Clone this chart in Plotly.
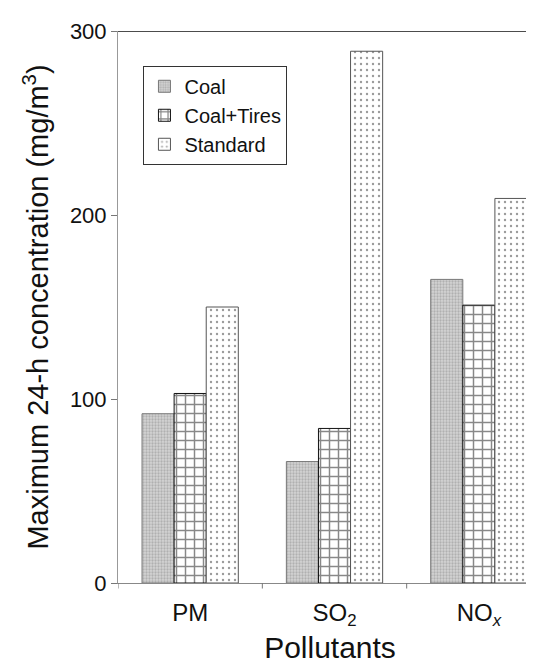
import plotly.graph_objects as go

categories = ["PM", "SO<sub>2</sub>", "NO<sub><i>x</i></sub>"]
coal = [92, 66, 165]
coal_tires = [103, 84, 151]
standard = [150, 289, 209]
y_ticks = [0, 100, 200, 300]

fig = go.Figure()
fig.add_trace(go.Bar(
    name="Coal", x=categories, y=coal,
    marker=dict(color="#d0d0d0", line=dict(color="#777777", width=1),
                pattern=dict(shape=".", fgcolor="#8c8c8c", bgcolor="#d4d4d4",
                             size=3, solidity=0.45)),
))
fig.add_trace(go.Bar(
    name="Coal+Tires", x=categories, y=coal_tires,
    marker=dict(color="white", line=dict(color="#111111", width=1),
                pattern=dict(shape="+", fgcolor="#111111", bgcolor="white",
                             size=9, solidity=0.3)),
))
fig.add_trace(go.Bar(
    name="Standard", x=categories, y=standard,
    marker=dict(color="white", line=dict(color="#555555", width=1),
                pattern=dict(shape=".", fgcolor="#333333", bgcolor="white",
                             size=6, solidity=0.12)),
))

fig.update_layout(
    width=534, height=667,
    margin=dict(l=110, r=0, t=23, b=92, autoexpand=False),
    paper_bgcolor="white", plot_bgcolor="white",
    barmode="group", bargap=0.333, bargroupgap=0,
    font=dict(family="Liberation Sans, Arial, sans-serif", color="#111111"),
    showlegend=True,
    legend=dict(x=0.06, y=0.937, xanchor="left", yanchor="top",
                bordercolor="#333333", borderwidth=1, bgcolor="white",
                font=dict(size=20), itemwidth=30, tracegroupgap=0),
    xaxis=dict(range=[-0.5, 2.4375], showline=True, linecolor="#888888",
               linewidth=1, ticks="", showgrid=False, automargin=False,
               tickfont=dict(size=24), ticklabelstandoff=8,
               title=dict(text="Pollutants", font=dict(size=30), standoff=8)),
    yaxis=dict(range=[0, 300], tickvals=y_ticks, showline=True,
               linecolor="#999999", linewidth=1, ticks="outside", ticklen=6,
               tickcolor="#777777", showgrid=False, zeroline=False,
               automargin=False, tickfont=dict(size=22),
               title=dict(text="Maximum 24-h concentration (mg/m<sup>3</sup>)",
                          font=dict(size=29), standoff=12)),
)

# top frame line at y = 300
fig.add_shape(type="line", xref="paper", yref="y", x0=0, x1=1, y0=300, y1=300,
              line=dict(color="#111111", width=1.5))

# category boundary ticks on x axis
for xb in [-0.5, 0.5, 1.5]:
    fig.add_shape(type="line", xref="x", yref="paper", x0=xb, x1=xb,
                  y0=0, y1=-0.01, line=dict(color="#777777", width=1))

fig.write_html("out.html")
